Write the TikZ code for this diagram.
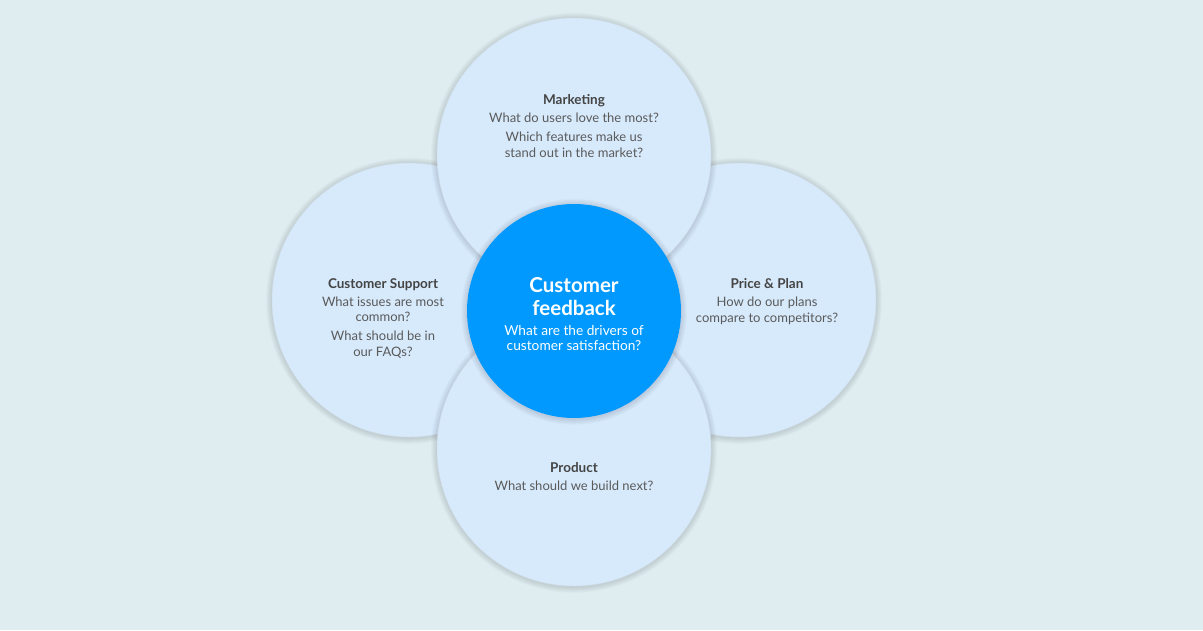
\documentclass[tikz,border=0pt]{standalone}
\usepackage{fontspec}
\setmainfont{Lato}
\definecolor{bgc}{HTML}{DFEDF1}
\definecolor{circfill}{HTML}{D7EAFC}
\definecolor{circedge}{HTML}{CFDEE8}
\definecolor{centerblue}{HTML}{0299FE}
\definecolor{headc}{HTML}{444444}
\definecolor{bodyc}{HTML}{5A5A5A}
\tikzset{
  bigcirc/.style={circle, fill=circfill, draw=circedge, line width=0.5pt, minimum size=274pt, inner sep=0pt},
  midcirc/.style={circle, fill=centerblue, draw=none, minimum size=214pt, inner sep=0pt},
  shadowring/.style={fill=black, opacity=0.018},
  txt/.style={align=center, text=bodyc, font=\fontsize{13}{15.5}\selectfont, inner sep=0pt},
  ctitle/.style={align=center, text=white, font=\fontsize{20.5}{23}\selectfont\bfseries, inner sep=0pt},
  ctxt/.style={align=center, text=white, font=\fontsize{13.7}{15.5}\selectfont, inner sep=0pt},
}
\newcommand{\hd}[1]{{\fontsize{13.5}{15}\selectfont\bfseries\color{headc}#1}}
\newcommand{\softshadow}[3]{%
  \foreach \d in {1,2,3,4,5,6}{\fill[shadowring] (#1,#2+0.8) circle ({#3+\d});}}
\begin{document}
\begin{tikzpicture}[x=1pt,y=-1pt]
\fill[bgc] (0,0) rectangle (1203,630);
\useasboundingbox (0,0) rectangle (1203,630);
% outer circles (left and right below top and bottom)
\softshadow{409}{300}{137}
\node[bigcirc] (left) at (409,300) {};
\softshadow{739}{300}{137}
\node[bigcirc] (right) at (739,300) {};
\softshadow{574}{155}{137}
\node[bigcirc] (top) at (574,155) {};
\softshadow{574}{449}{137}
\node[bigcirc] (bottom) at (574,449) {};
\softshadow{574}{311}{107}
\node[midcirc] (center) at (574,311) {};
% texts
\node[txt] (ttop) at (574,126) {\hd{Marketing}\\[2.5pt]What do users love the most?\\[3.5pt]Which features make us\\stand out in the market?};
\node[txt] (tleft) at (383,318.5) {\hd{Customer Support}\\[2.5pt]What issues are most\\common?\\[3.5pt]What should be in\\our FAQs?};
\node[txt] (tright) at (767,301.5) {\hd{Price \& Plan}\\[2.5pt]How do our plans\\compare to competitors?};
\node[txt] (tbottom) at (574,477) {\hd{Product}\\[2.5pt]What should we build next?};
\node[ctitle] (ttitle) at (574,297) {Customer\\feedback};
\node[ctxt] (tsub) at (574,338) {What are the drivers of\\customer satisfaction?};
\end{tikzpicture}
\end{document}
